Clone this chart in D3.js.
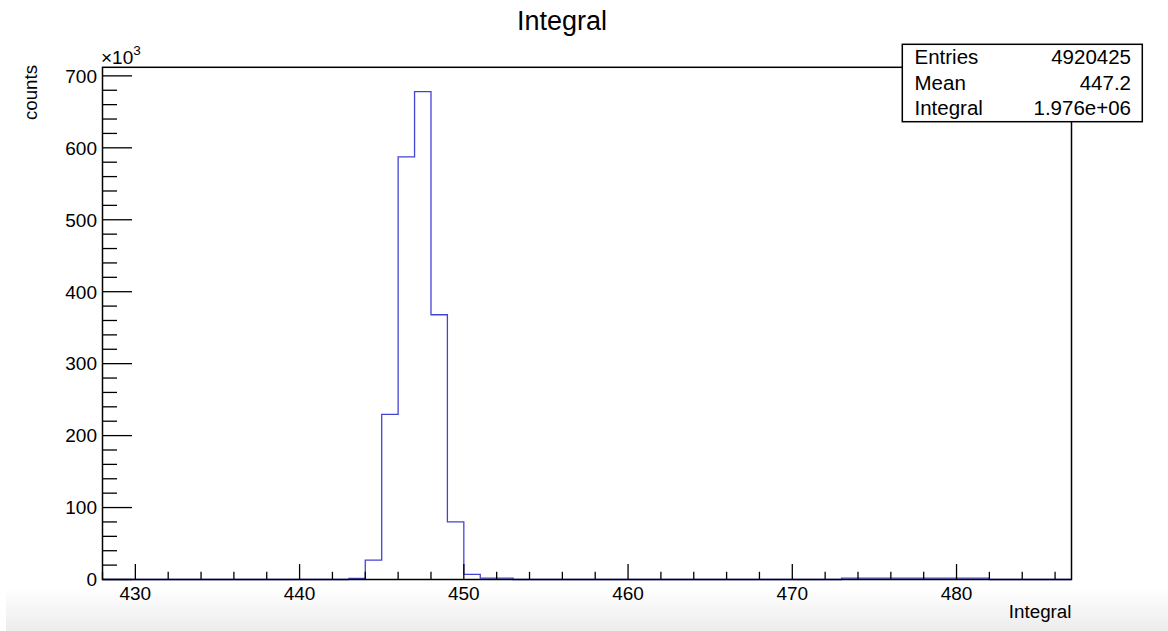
<!DOCTYPE html>
<html>
<head>
<meta charset="utf-8">
<script src="https://cdn.jsdelivr.net/npm/d3@7"></script>
<style>
  html, body { margin: 0; padding: 0; background: #fff; }
  svg { display: block; font-family: "Liberation Sans", Arial, Helvetica, sans-serif; }
</style>
</head>
<body>
<svg id="chart" width="1168" height="631"></svg>
<script>
// Histogram "Integral": 1-unit bins on [428, 487]
const xRange = [428, 487];
const binLow = [443, 444, 445, 446, 447, 448, 449, 450, 451, 452,
                473, 474, 475, 476, 477, 478, 479, 480, 481];
const binCounts = [1500, 27000, 229500, 587500, 678000, 368000, 80000, 7000, 2000, 2000,
                   2000, 2000, 2000, 2000, 2000, 2000, 2000, 2000, 2000];
const xMajorTicks = [430, 440, 450, 460, 470, 480];
const yMajorTicks = [0, 100000, 200000, 300000, 400000, 500000, 600000, 700000];
const statLabels = ["Entries", "Mean", "Integral"];
const statValues = ["4920425", "447.2", "1.976e+06"];

const svg = d3.select("#chart");
const frame = { left: 102.5, right: 1071.5, top: 67.3, bottom: 579.5 };

// faint grey band along the bottom edge
const defs = svg.append("defs");
const grad = defs.append("linearGradient").attr("id", "band").attr("x1", 0).attr("x2", 0).attr("y1", 0).attr("y2", 1);
grad.append("stop").attr("offset", "0%").attr("stop-color", "#ffffff");
grad.append("stop").attr("offset", "100%").attr("stop-color", "#ececec");
svg.append("rect").attr("x", 6).attr("y", 588).attr("width", 1162).attr("height", 43).attr("fill", "url(#band)");

// full bin array over the range
const bins = d3.range(xRange[0], xRange[1]).map(lo => {
  const i = binLow.indexOf(lo);
  return { lo: lo, v: i >= 0 ? binCounts[i] : 0 };
});
const yMax = d3.max(binCounts) * 1.05;

const x = d3.scaleLinear().domain(xRange).range([frame.left, frame.right]);
const y = d3.scaleLinear().domain([0, yMax]).range([frame.bottom, frame.top]);

// histogram outline
const pts = bins.map(b => [b.lo, b.v]);
pts.push([xRange[1], bins[bins.length - 1].v]);
svg.append("path")
  .attr("d", d3.line().x(d => x(d[0])).y(d => y(d[1])).curve(d3.curveStepAfter)(pts))
  .attr("fill", "none")
  .attr("stroke", "#4444d4")
  .attr("stroke-width", 1.3);

// frame
svg.append("rect")
  .attr("x", frame.left).attr("y", frame.top)
  .attr("width", frame.right - frame.left).attr("height", frame.bottom - frame.top)
  .attr("fill", "none").attr("stroke", "#000").attr("stroke-width", 1.5);

// x axis ticks
const xMinor = d3.range(xRange[0], xRange[1] + 0.001, 2);
const xMajLen = 15.4, xMinLen = 7.7;
svg.append("g").selectAll("line").data(xMinor).join("line")
  .attr("x1", d => x(d)).attr("x2", d => x(d))
  .attr("y1", frame.bottom)
  .attr("y2", d => frame.bottom - (d % 10 === 0 ? xMajLen : xMinLen))
  .attr("stroke", "#000").attr("stroke-width", 1.3);
svg.append("g").selectAll("text").data(xMajorTicks).join("text")
  .attr("x", d => x(d)).attr("y", 599.5)
  .attr("text-anchor", "middle").attr("font-size", 19)
  .text(d => d);

// y axis ticks
const yMinor = d3.range(0, yMax, 20000);
const yMajLen = 29.5, yMinLen = 14.5;
svg.append("g").selectAll("line").data(yMinor).join("line")
  .attr("x1", frame.left)
  .attr("x2", d => frame.left + (d % 100000 === 0 ? yMajLen : yMinLen))
  .attr("y1", d => y(d)).attr("y2", d => y(d))
  .attr("stroke", "#000").attr("stroke-width", 1.3);
svg.append("g").selectAll("text").data(yMajorTicks).join("text")
  .attr("x", 97).attr("y", d => y(d) + 6.8)
  .attr("text-anchor", "end").attr("font-size", 19)
  .text(d => d / 1000);

// exponent marker
const ex = svg.append("text").attr("x", 101).attr("y", 63.5).attr("font-size", 19);
ex.append("tspan").text("\u00d710");
ex.append("tspan").attr("dy", -8.5).attr("font-size", 13.5).text("3");

// axis titles
svg.append("text")
  .attr("transform", "translate(37,65) rotate(-90)")
  .attr("text-anchor", "end").attr("font-size", 18.7)
  .text("counts");
svg.append("text")
  .attr("x", frame.right).attr("y", 618)
  .attr("text-anchor", "end").attr("font-size", 18.8)
  .text("Integral");

// title
svg.append("text")
  .attr("x", 562).attr("y", 30)
  .attr("text-anchor", "middle").attr("font-size", 27)
  .text("Integral");

// statistics box
const box = { x: 902.3, y: 44.3, w: 240, h: 77.4 };
svg.append("rect")
  .attr("x", box.x).attr("y", box.y).attr("width", box.w).attr("height", box.h)
  .attr("fill", "#fff").attr("stroke", "#000").attr("stroke-width", 1.5);
const rowY = [64, 89.5, 114.5];
svg.append("g").selectAll("text").data(statLabels).join("text")
  .attr("x", 914.5).attr("y", (d, i) => rowY[i])
  .attr("font-size", 20.5).text(d => d);
svg.append("g").selectAll("text").data(statValues).join("text")
  .attr("x", 1131).attr("y", (d, i) => rowY[i])
  .attr("text-anchor", "end").attr("font-size", 20.5).text(d => d);
</script>
</body>
</html>
